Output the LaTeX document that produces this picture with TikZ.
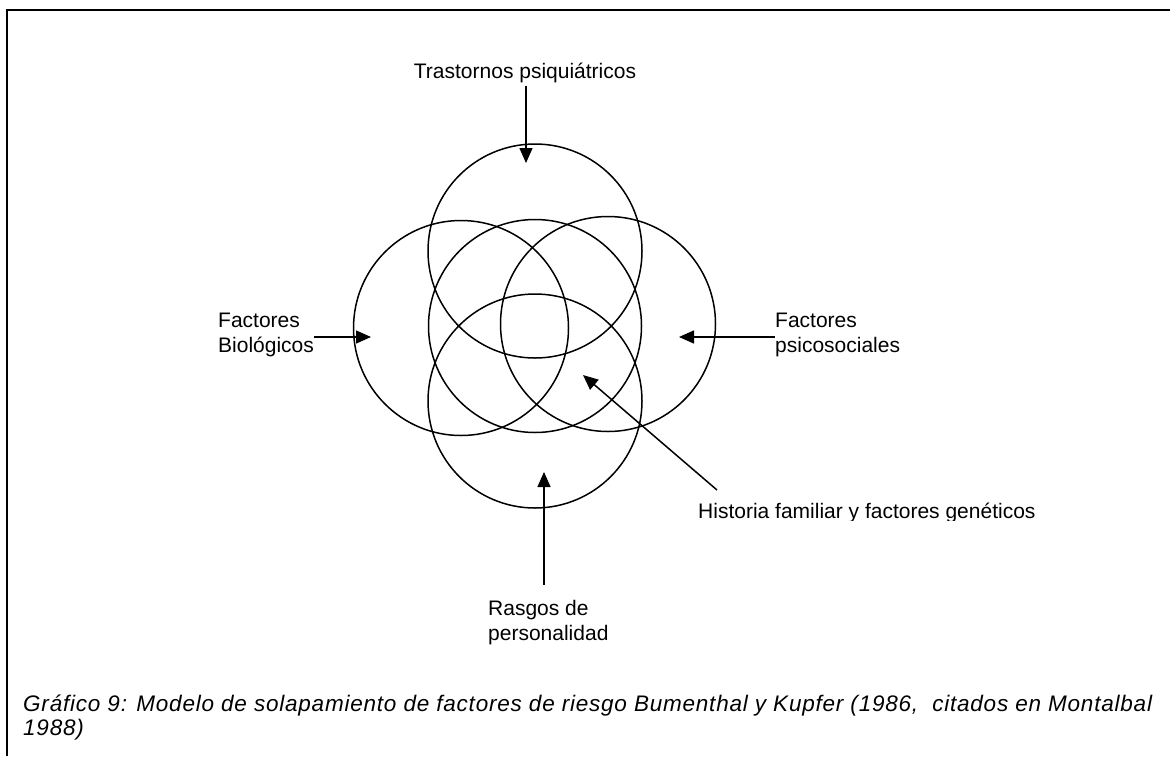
\documentclass[tikz,border=0pt]{standalone}
\usepackage{fontspec}
\setmainfont{Liberation Sans}
\usetikzlibrary{arrows.meta}

\begin{document}
\begin{tikzpicture}[x=1pt,y=-1pt,font=\fontsize{21}{25}\selectfont]

\useasboundingbox (0,0) rectangle (1170,756);
\draw[line width=2pt] (7,756) -- (7,10) -- (1170,10);

\node[shape=circle, draw=black, line width=1.5pt, minimum size=214pt, inner sep=0pt](top) at (535,251) {};
\node[shape=circle, draw=black, line width=1.5pt, minimum size=215pt, inner sep=0pt](left) at (461,328) {};
\node[shape=circle, draw=black, line width=1.5pt, minimum size=213pt, inner sep=0pt](mid) at (535,326) {};
\node[shape=circle, draw=black, line width=1.5pt, minimum size=215pt, inner sep=0pt](right) at (608,324) {};
\node[shape=circle, draw=black, line width=1.5pt, minimum size=214pt, inner sep=0pt](bottom) at (535,401) {};

\node[anchor=base, inner sep=0pt](trast) at (525,78) {Trastornos psiquiátricos};
\node[anchor=base west, align=left, inner sep=0pt](bio) at (218,352) {Factores\\Biológicos};
\node[anchor=base west, align=left, inner sep=0pt](psico) at (775,352) {Factores\\psicosociales};
\node[anchor=base west, align=left, inner sep=0pt](rasgos) at (488,640) {Rasgos de\\personalidad};
\begin{scope}
\clip (690,495) rectangle (1060,520);
\node[anchor=base west, inner sep=0pt](hist) at (698,518) {Historia familiar y factores genéticos};
\end{scope}

\coordinate (trastpt) at (526,163);
\coordinate (biopt) at (371,337);
\coordinate (psicopt) at (679,337);
\coordinate (rasgospt) at (544,472);
\coordinate (histpt) at (583,375);
\coordinate (histfoot) at (717,490);

\path[-{Triangle[length=15pt,width=13pt]}, line width=1.5pt, shorten <=3pt] (trast.south -| trastpt) edge (trastpt);
\path[-{Triangle[length=15pt,width=13pt]}, line width=1.5pt] (bio.east |- biopt) edge (biopt);
\path[-{Triangle[length=15pt,width=13pt]}, line width=1.5pt] (psico.west |- psicopt) edge (psicopt);
\path[-{Triangle[length=15pt,width=13pt]}, line width=1.5pt, shorten <=15pt] (rasgos.north -| rasgospt) edge (rasgospt);
\path[-{Triangle[length=15pt,width=13pt]}, line width=1.5pt] (histfoot) edge (histpt);

\node[anchor=base west, align=left, inner sep=0pt, font=\fontsize{22.5}{24}\selectfont\itshape\addfontfeature{LetterSpace=3.5}](caption) at (23,735) {Gráfico 9: Modelo de solapamiento de factores de riesgo Bumenthal y Kupfer (1986,\ \ citados en Montalbal\\1988)};
\end{tikzpicture}
\end{document}
